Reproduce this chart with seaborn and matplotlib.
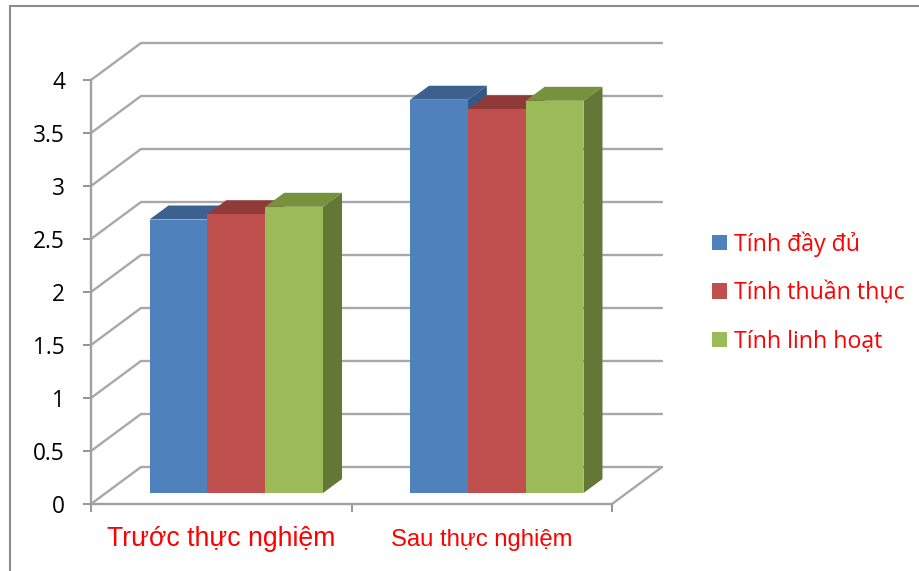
import matplotlib
matplotlib.use("Agg")
import matplotlib.pyplot as plt
from matplotlib.patches import Polygon, Rectangle
from matplotlib.transforms import ScaledTranslation
import pandas as pd
import seaborn as sns

# Chart values
groups = ["Trước thực nghiệm", "Sau thực nghiệm"]
series = ["Tính đầy đủ", "Tính thuần thục", "Tính linh hoạt"]
values_full = [2.58, 3.71]
values_fluent = [2.63, 3.62]
values_flexible = [2.70, 3.70]
y_ticks = [0, 0.5, 1, 1.5, 2, 2.5, 3, 3.5, 4]
y_labels = ["0", "0.5", "1", "1.5", "2", "2.5", "3", "3.5", "4"]

front_colors = ["#4F81BD", "#C0504D", "#9BBB59"]
top_colors = ["#3C618F", "#8F3A38", "#76923C"]
side_colors = ["#305A8A", "#8A3634", "#657737"]

W, H = 919, 571
sns.set_theme(style="white")
plt.rcParams["font.family"] = ["Open Sans", "DejaVu Sans"]
fig = plt.figure(figsize=(W / 100, H / 100), dpi=100)


def box(left, top, right, bottom):
    return [left / W, 1 - bottom / H, (right - left) / W, (bottom - top) / H]


# Outer chart frame runs past the right and bottom edges
fig.add_artist(Rectangle((10 / W, -0.05), 1.1, 1 - 6 / H + 0.05, transform=fig.transFigure,
                         fill=False, edgecolor="#8C8C8C", linewidth=1.5))

# Front plane of the pseudo-3D box: carries the axes, ticks and labels
ax = fig.add_axes(box(91, 80, 612, 504))
ax.set_xlim(-0.5, 1.5)
ax.set_ylim(0, 4)
ax.patch.set_alpha(0)

wall_dx = 50 / 260.5
wall_dy = 37 / 106
grid_color = "#A8A8A8"
for v in y_ticks:
    ax.plot([-0.5, -0.5 + wall_dx, 1.5 + wall_dx], [v, v + wall_dy, v + wall_dy],
            color=grid_color, lw=1.7, clip_on=False, zorder=1, solid_joinstyle="miter")
ax.plot([1.5 + wall_dx, 1.5], [wall_dy, 0], color=grid_color, lw=1.7, clip_on=False, zorder=1)

for name in ["top", "right"]:
    ax.spines[name].set_visible(False)
for name in ["left", "bottom"]:
    ax.spines[name].set_color("#A0A0A0")
    ax.spines[name].set_linewidth(1.7)

ax.set_yticks(y_ticks, y_labels)
ax.tick_params(axis="y", length=5.8, width=1.3, color="#8C8C8C", pad=13, labelsize=16.3,
               labelcolor="black", left=True)
ax.set_xticks([-0.5, 0.5, 1.5], ["", "", ""])
ax.tick_params(axis="x", which="major", length=5.8, width=1.3, color="#8C8C8C", bottom=True)
ax.set_xticks([0, 1], groups, minor=True)
ax.tick_params(axis="x", which="minor", length=0, pad=16, labelcolor="red")
minor_labels = ax.get_xticklabels(minor=True)
minor_labels[0].set(fontfamily="Liberation Sans", fontsize=19.2)
minor_labels[1].set(fontfamily="Liberation Sans", fontsize=17.2)
# The second category label sits a little lower than the first
minor_labels[1].set_transform(minor_labels[1].get_transform()
                              + ScaledTranslation(0, -3 / 100, fig.dpi_scale_trans))
ax.set_xlabel("")
ax.set_ylabel("")

# Bars stand slightly behind the front plane, so their axes is offset along the depth
ax_bar = fig.add_axes(box(106, 69, 627, 493))
data = pd.DataFrame({
    "group": groups * 3,
    "series": [s for s in series for _ in groups],
    "value": values_full + values_fluent + values_flexible,
})
sns.barplot(data=data, x="group", y="value", hue="series", palette=front_colors,
            hue_order=series, order=groups, width=0.666, gap=0, dodge=True, saturation=1,
            ax=ax_bar, legend=False, linewidth=0, edgecolor="none")
ax_bar.set_xlim(-0.5, 1.5)
ax_bar.set_ylim(0, 4)
ax_bar.axis("off")

# Extrude each bar from its own rectangle: side face, top face, then the front
bar_dx = 19 / 260.5
bar_dy = 14 / 106
bars = sorted([p for p in ax_bar.patches if p.get_height() > 0], key=lambda p: p.get_x())
order = [0, 1, 2, 0, 1, 2]
for i, (bar, c) in enumerate(zip(bars, order)):
    x0, x1, h = bar.get_x(), bar.get_x() + bar.get_width(), bar.get_height()
    base_z = 3 + 3 * i
    ax_bar.add_patch(Polygon([(x1, 0), (x1 + bar_dx, bar_dy), (x1 + bar_dx, h + bar_dy), (x1, h)],
                             facecolor=side_colors[c], edgecolor="none", zorder=base_z, clip_on=False))
    ax_bar.add_patch(Polygon([(x0, h), (x0 + bar_dx, h + bar_dy), (x1 + bar_dx, h + bar_dy), (x1, h)],
                             facecolor=top_colors[c], edgecolor="none", zorder=base_z + 1, clip_on=False))
    bar.set_zorder(base_z + 2)

# Legend on the right
handles = [Rectangle((0, 0), 1, 1, facecolor=c, edgecolor="none") for c in front_colors]
leg = fig.legend(handles, series, loc="center left", bbox_to_anchor=(712 / W, 1 - 292.5 / H),
                 frameon=False, fontsize=16.7, labelcolor="red", handlelength=0.65,
                 handleheight=0.65, handletextpad=0.3, labelspacing=1.05, borderpad=0,
                 borderaxespad=0)

fig.savefig("out.png", dpi=100)
